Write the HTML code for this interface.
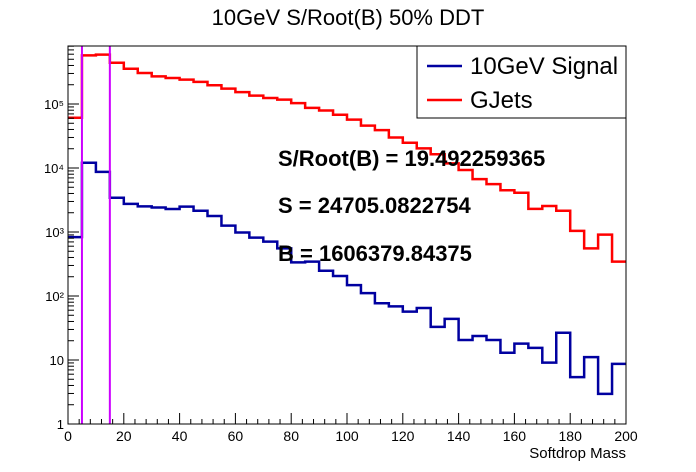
<!DOCTYPE html>
<html><head><meta charset="utf-8"><style>
body{margin:0;background:#fff;font-family:"Liberation Sans",sans-serif}
svg{display:block}
</style></head><body>
<svg id="c" width="696" height="472" xmlns="http://www.w3.org/2000/svg">
<rect width="696" height="472" fill="#fff"/>
<text x="348" y="25" font-size="22" text-anchor="middle">10GeV S/Root(B) 50% DDT</text>
<g id="plot"></g>
<rect x="68" y="46" width="558" height="378" fill="none" stroke="#000" stroke-width="1"/>
<g>
<rect x="417" y="46" width="209" height="72" fill="#fff" stroke="#000" stroke-width="1"/>
<line x1="427" y1="66" x2="462" y2="66" stroke="#0000a0" stroke-width="2.5"/>
<text x="470" y="74" font-size="24">10GeV Signal</text>
<line x1="427" y1="100" x2="462" y2="100" stroke="#ff0000" stroke-width="2.5"/>
<text x="470" y="108" font-size="24">GJets</text>
</g>
<text x="278" y="166" font-size="22" font-weight="bold">S/Root(B) = 19.492259365</text>
<text x="278" y="213" font-size="22" font-weight="bold">S = 24705.0822754</text>
<text x="278" y="261" font-size="22" font-weight="bold">B = 1606379.84375</text>
<text x="626" y="458" font-size="15" text-anchor="end">Softdrop Mass</text>
</svg>
<script>
const binEdges0 = 0, binWidth = 5;
const signal = [830,12100,8700,3430,2750,2510,2410,2290,2490,2150,1780,1260,980,815,707,556,336,344,248,205,148,111,77,69,57,65,33,44,20.5,23.7,20.5,13,18,15.5,9.1,26.7,5.4,11.1,2.95,8.7];
const gjets = [61000,575000,590000,442000,356000,305000,270000,255000,240000,222000,196000,174000,153000,135000,124000,117000,103000,87000,79000,68000,57000,46000,39000,30000,24800,20300,16400,11800,9300,6700,5600,4500,4100,2300,2550,2150,1040,556,910,344];
const cutLines = [5,15];
const xTicks = [0,20,40,60,80,100,120,140,160,180,200];
const yTickLabels = ["1","10","10²","10³","10⁴","10⁵"];
const X0=68,X1=626,Y0=424,Y1=46,XMAX=200,DEC=64;
const sx=v=>X0+(v-0)/XMAX*(X1-X0);
const sy=v=>Y0-Math.log10(v)*DEC;
const NS="http://www.w3.org/2000/svg";
const g=document.getElementById('plot');
function mk(t,a){const e=document.createElementNS(NS,t);for(const k in a)e.setAttribute(k,a[k]);g.appendChild(e);return e;}
function hist(vals,color,name){
  let d="";
  vals.forEach((v,i)=>{const xa=sx(binEdges0+i*binWidth),xb=sx(binEdges0+(i+1)*binWidth),y=Math.max(Y1,Math.min(Y0,sy(v)));
    d+=(i===0?"M":"L")+xa+","+y+"L"+xb+","+y;});
  const p=mk('path',{d:d,fill:'none',stroke:color,'stroke-width':2.5});
  
  
}
hist(gjets,'#ff0000','gjets-histogram');
hist(signal,'#0000a0','signal-histogram');
cutLines.forEach(c=>{
  const l=mk('line',{x1:sx(c),x2:sx(c),y1:Y1,y2:Y0,stroke:'#cc00ff','stroke-width':2});
  
  
});
xTicks.forEach(t=>{
  const l=mk('line',{x1:sx(t),x2:sx(t),y1:Y0,y2:Y0-11,stroke:'#000'});
  
  
  const tx=mk('text',{x:sx(t),y:Y0+17,'font-size':14,'text-anchor':'middle'});
  tx.textContent=t;
  
  
});
for(let v=0;v<=XMAX;v+=4){if(v%20===0)continue;
  const l=mk('line',{x1:sx(v),x2:sx(v),y1:Y0,y2:Y0-5,stroke:'#000'});
  
  
}
yTickLabels.forEach((lab,i)=>{
  const y=Y0-i*DEC;
  const l=mk('line',{x1:X0,x2:X0+11,y1:y,y2:y,stroke:'#000'});
  
  
  const tx=mk('text',{x:X0-4,y:y+5,'font-size':13,'text-anchor':'end'});
  tx.textContent=lab;
  
  
});
for(let d=0;d<6;d++)for(let m=2;m<=9;m++){
  const y=sy(Math.pow(10,d)*m); if(y<Y1)continue;
  const l=mk('line',{x1:X0,x2:X0+6,y1:y,y2:y,stroke:'#000'});
  
  
}
</script>
</body></html>
